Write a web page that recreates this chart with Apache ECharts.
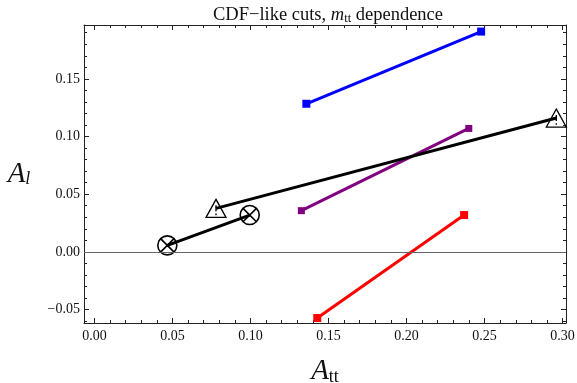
<!DOCTYPE html>
<html><head><meta charset="utf-8">
<script src="https://cdn.jsdelivr.net/npm/echarts@6/dist/echarts.min.js"></script>
<style>html,body{margin:0;padding:0;background:#fff}#c{width:577px;height:383px}</style>
</head><body><div id="c"></div>
<script>
// Axis ranges and tick values
const xRange = [-0.0067, 0.3022];
const yRange = [-0.0617, 0.1967];
const xMajor = [0, 0.05, 0.10, 0.15, 0.20, 0.25, 0.30];
const yMajor = [-0.05, 0, 0.05, 0.10, 0.15];
const xMinor = [0.01,0.02,0.03,0.04,0.06,0.07,0.08,0.09,0.11,0.12,0.13,0.14,0.16,0.17,0.18,0.19,0.21,0.22,0.23,0.24,0.26,0.27,0.28,0.29];
const yMinor = [-0.06,-0.04,-0.03,-0.02,-0.01,0.01,0.02,0.03,0.04,0.06,0.07,0.08,0.09,0.11,0.12,0.13,0.14,0.16,0.17,0.18,0.19];

// Series data [A_tt, A_l]
const blue   = [[0.1358, 0.1284], [0.2478, 0.1910]];
const purple = [[0.1326, 0.0357], [0.2399, 0.1070]];
const red    = [[0.1428, -0.0574], [0.2369, 0.0319]];
const blackTri = [[0.0779, 0.0377], [0.2960, 0.1160]];
const blackOt  = [[0.0467, 0.0056], [0.0995, 0.0319]];

const SERIF = '"Liberation Serif", "DejaVu Serif", serif';
const fmt = v => { const s = Math.abs(v).toFixed(2); return v < -1e-9 ? '\u2212' + s : s; };
const frame = '#222';

function xAx(pos, vals, len, showLine, showLabel) {
  return {
    type: 'value', position: pos, min: xRange[0], max: xRange[1],
    axisLine: { show: showLine, onZero: false, lineStyle: { color: frame, width: 1 } },
    axisTick: { show: true, inside: true, length: len, customValues: vals, lineStyle: { color: frame } },
    axisLabel: { show: showLabel, customValues: vals, formatter: fmt, fontFamily: SERIF, fontSize: 14, color: '#111', margin: 6 },
    splitLine: { show: false }
  };
}
function yAx(pos, vals, len, showLine, showLabel) {
  return {
    type: 'value', position: pos, min: yRange[0], max: yRange[1],
    axisLine: { show: showLine, onZero: false, lineStyle: { color: frame, width: 1 } },
    axisTick: { show: true, inside: true, length: len, customValues: vals, lineStyle: { color: frame } },
    axisLabel: { show: showLabel, customValues: vals, formatter: fmt, fontFamily: SERIF, fontSize: 14, color: '#111', margin: 4 },
    splitLine: { show: false }
  };
}

const xAxes = [xAx('bottom', xMajor, 5, true, true), xAx('bottom', xMinor, 3, false, false),
               xAx('top', xMajor, 5, true, false), xAx('top', xMinor, 3, false, false)];
xAxes[0].name = '{a|A}{s|tt}';
xAxes[0].nameLocation = 'middle';
xAxes[0].nameGap = 34;
xAxes[0].nameTextStyle = { rich: {
  a: { fontFamily: SERIF, fontStyle: 'italic', fontSize: 29, color: '#111' },
  s: { fontFamily: SERIF, fontSize: 18, color: '#111', verticalAlign: 'bottom', padding: [10, 0, 0, 0] } } };

const yAxes = [yAx('left', yMajor, 5, true, true), yAx('left', yMinor, 3, false, false),
               yAx('right', yMajor, 5, true, false), yAx('right', yMinor, 3, false, false)];

const otimes = 'path://M10,0 A10,10 0 1 1 10,20 A10,10 0 1 1 10,0 Z M2.93,2.93 L17.07,17.07 M17.07,2.93 L2.93,17.07';
const warn = 'path://M10,0 L20,18 L0,18 Z M10,6 L10,12 M10,14.2 L10,15.8';

function sq(name, data, color, size) {
  return { name, type: 'line', data, xAxisIndex: 0, yAxisIndex: 0,
    lineStyle: { color, width: 3 }, symbol: 'rect', symbolSize: size,
    itemStyle: { color }, z: 3, animation: false };
}

const option = {
  animation: false,
  grid: { left: 84, right: 11, top: 25, bottom: 60, containLabel: false, outerBoundsMode: 'none' },
  title: {
    text: '{t|CDF\u2212like cuts, }{m|m}{s|tt}{t| dependence}',
    left: 323, top: 0, textAlign: 'center',
    textStyle: { fontWeight: 'normal', rich: {
      t: { fontFamily: SERIF, fontSize: 18.5, fontWeight: 'normal', color: '#111' },
      m: { fontFamily: SERIF, fontSize: 18.5, fontStyle: 'italic', fontWeight: 'normal', color: '#111' },
      s: { fontFamily: SERIF, fontSize: 12.5, fontWeight: 'normal', color: '#111', padding: [7, 0, 0, 0] } } }
  },
  graphic: [{
    type: 'text', x: 19, y: 174,
    style: { text: '{a|A}{s|l}', align: 'center', verticalAlign: 'middle',
      rich: {
        a: { fontFamily: SERIF, fontStyle: 'italic', fontSize: 29, fill: '#111' },
        s: { fontFamily: SERIF, fontStyle: 'italic', fontSize: 18, fill: '#111', padding: [10, 0, 0, 0] } } }
  }],
  xAxis: xAxes,
  yAxis: yAxes,
  series: [
    { type: 'line', data: [], xAxisIndex: 0, yAxisIndex: 0, silent: true,
      markLine: { symbol: 'none', silent: true, label: { show: false },
        lineStyle: { color: '#666', width: 1.2, type: 'solid' }, data: [{ yAxis: 0 }] } },
    sq('blue', blue, '#0000ff', 8),
    sq('purple', purple, '#800080', 7),
    sq('red', red, '#ff0000', 8),
    { name: 'blackTri', type: 'line', data: blackTri, xAxisIndex: 0, yAxisIndex: 0,
      lineStyle: { color: '#000', width: 3 }, symbol: warn, symbolSize: [20, 18],
      itemStyle: { color: 'rgba(255,255,255,0)', borderColor: '#000', borderWidth: 1.3 }, z: 4 },
    { name: 'blackOt', type: 'line', data: blackOt, xAxisIndex: 0, yAxisIndex: 0,
      lineStyle: { color: '#000', width: 3 }, symbol: otimes, symbolSize: [19, 19],
      itemStyle: { color: 'rgba(255,255,255,0)', borderColor: '#000', borderWidth: 1.6 }, z: 4 }
  ]
};
echarts.init(document.getElementById('c'), null, { renderer: 'canvas' }).setOption(option);
</script></body></html>
